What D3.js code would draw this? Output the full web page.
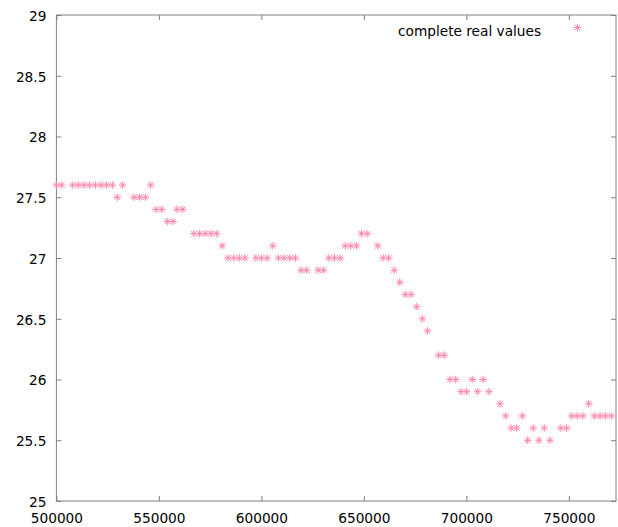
<!DOCTYPE html>
<html>
<head>
<meta charset="utf-8">
<script src="https://cdn.jsdelivr.net/npm/d3@7"></script>
<style>
  body { margin: 0; background: white; }
  text { font-family: "DejaVu Sans", sans-serif; font-size: 13.7px; fill: black; }
</style>
</head>
<body>
<svg width="618" height="527" id="MainSVG"></svg>
<script>
// data
var xValues = [500000, 502600, 508000, 510700, 513500, 516200, 519000, 521800, 524500, 527300,
  529700, 532300, 537900, 540600, 543400, 546000, 548600, 551400, 554100, 556900,
  558800, 561600, 567100, 569900, 572600, 575400, 578200, 580900, 583700, 586500,
  589200, 592000, 597300, 600000, 602800, 605600, 608300, 611100, 613900, 616600,
  619400, 622100, 627700, 630400, 632900, 635700, 638400, 640900, 643600, 646400,
  648800, 651600, 656800, 659400, 662100, 664800, 667500, 670200, 673000, 675800,
  678500, 681100, 686500, 689200, 692000, 694800, 697400, 700100, 702900, 705500,
  708200, 711000, 716400, 719200, 721800, 724500, 727300, 729900, 732600, 735400,
  738000, 740800, 746100, 748900, 751400, 754100, 756900, 759700, 762400, 765200,
  767900, 770700];

var yValues = [27.6, 27.6, 27.6, 27.6, 27.6, 27.6, 27.6, 27.6, 27.6, 27.6,
  27.5, 27.6, 27.5, 27.5, 27.5, 27.6, 27.4, 27.4, 27.3, 27.3,
  27.4, 27.4, 27.2, 27.2, 27.2, 27.2, 27.2, 27.1, 27.0, 27.0,
  27.0, 27.0, 27.0, 27.0, 27.0, 27.1, 27.0, 27.0, 27.0, 27.0,
  26.9, 26.9, 26.9, 26.9, 27.0, 27.0, 27.0, 27.1, 27.1, 27.1,
  27.2, 27.2, 27.1, 27.0, 27.0, 26.9, 26.8, 26.7, 26.7, 26.6,
  26.5, 26.4, 26.2, 26.2, 26.0, 26.0, 25.9, 25.9, 26.0, 25.9,
  26.0, 25.9, 25.8, 25.7, 25.6, 25.6, 25.7, 25.5, 25.6, 25.5,
  25.6, 25.5, 25.6, 25.6, 25.7, 25.7, 25.7, 25.8, 25.7, 25.7,
  25.7, 25.7];

var xTicks = [500000, 550000, 600000, 650000, 700000, 750000];
var yTicks = [25, 25.5, 26, 26.5, 27, 27.5, 28, 28.5, 29];
var seriesName = "complete real values";

var points = xValues.map(function(d, i) { return {x: d, y: yValues[i]}; });

var svg = d3.select("svg");
var plotLeft = 56.4, plotRight = 616, plotTop = 15, plotBottom = 501;
var borderColor = "#808080";
var pointColor = "#ff88a8";

var xs = d3.scaleLinear().domain([500000, 773000]).range([plotLeft, plotRight]);
var ys = d3.scaleLinear().domain([25, 29]).range([plotBottom, plotTop]);

// axes, ticks pointing inward like gnuplot
var gx = svg.append("g")
  .attr("transform", "translate(0," + plotBottom + ")")
  .call(d3.axisBottom(xs).tickValues(xTicks).tickSizeInner(-5).tickSizeOuter(0).tickPadding(12).tickFormat(d3.format("d")));

var gy = svg.append("g")
  .attr("transform", "translate(" + plotLeft + ",0)")
  .call(d3.axisLeft(ys).tickValues(yTicks).tickSizeInner(-5).tickSizeOuter(0).tickPadding(10).tickFormat(d3.format("~g")));

// mirrored ticks on top and right
var gt = svg.append("g")
  .attr("transform", "translate(0," + plotTop + ")")
  .call(d3.axisTop(xs).tickValues(xTicks).tickSizeInner(-5).tickSizeOuter(0).tickFormat(""));

var gr = svg.append("g")
  .attr("transform", "translate(" + plotRight + ",0)")
  .call(d3.axisRight(ys).tickValues(yTicks).tickSizeInner(-5).tickSizeOuter(0).tickFormat(""));

[gx, gy, gt, gr].forEach(function(g) {
  g.select(".domain").remove();
  g.selectAll(".tick line").attr("stroke", borderColor);
  g.selectAll(".tick text").attr("font-family", null).attr("font-size", null).attr("fill", "black");
});
gy.selectAll(".tick text").attr("dy", "0.4em");

// border
svg.append("rect")
  .attr("x", plotLeft)
  .attr("y", plotTop)
  .attr("width", plotRight - plotLeft)
  .attr("height", plotBottom - plotTop)
  .attr("fill", "none")
  .attr("stroke", borderColor)
  .attr("stroke-width", 1);

// asterisk marker
function asterisk(g, r) {
  var d = r * 0.72;
  g.append("path")
    .attr("d", "M" + (-r) + ",0H" + r + "M0," + (-r) + "V" + r +
      "M" + (-d) + "," + (-d) + "L" + d + "," + d +
      "M" + (-d) + "," + d + "L" + d + "," + (-d))
    .attr("stroke", pointColor)
    .attr("stroke-width", 1)
    .attr("fill", "none");
}

svg.append("g")
  .selectAll(".pt")
  .data(points)
  .enter().append("g")
  .attr("class", "pt")
  .attr("transform", function(d) { return "translate(" + xs(d.x) + "," + ys(d.y) + ")"; })
  .each(function() { asterisk(d3.select(this), 3.8); });

// legend
svg.append("text")
  .attr("x", 398)
  .attr("y", 35.5)
  .text(seriesName);

var lg = svg.append("g").attr("transform", "translate(577.5,27.5)");
asterisk(lg, 3.8);
</script>
</body>
</html>
